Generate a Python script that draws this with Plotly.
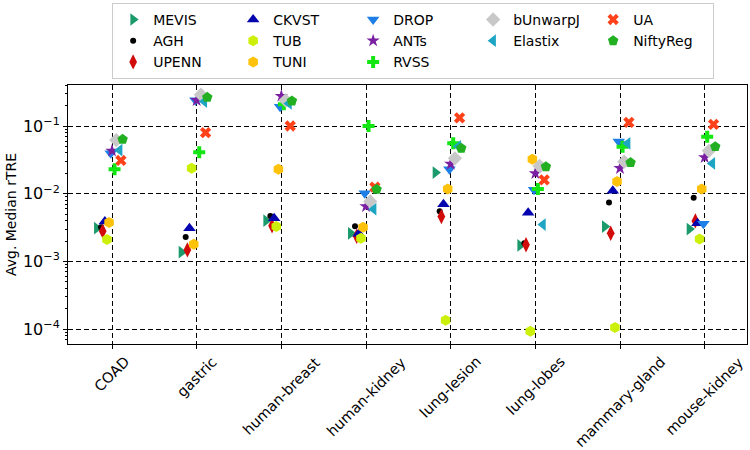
import plotly.graph_objects as go

categories = ["COAD", "gastric", "human-breast", "human-kidney",
              "lung-lesion", "lung-lobes", "mammary-gland", "mouse-kidney"]

methods = ["MEVIS", "AGH", "UPENN", "CKVST", "TUB", "TUNI", "DROP",
           "ANTs", "RVSS", "bUnwarpJ", "Elastix", "UA", "NiftyReg"]

MEVIS = [3.1e-3, 1.37e-3, 4.0e-3, 2.6e-3, 0.0205, 1.72e-3, 3.27e-3, 3.0e-3]
AGH = [3.2e-3, 2.3e-3, 4.7e-3, 3.3e-3, 5.5e-3, 1.86e-3, 7.4e-3, 8.75e-3]
UPENN = [2.8e-3, 1.48e-3, 3.35e-3, 2.35e-3, 4.6e-3, 1.76e-3, 2.6e-3, 3.97e-3]
CKVST = [3.9e-3, 3.1e-3, 4.35e-3, 2.57e-3, 7.0e-3, 5.25e-3, 0.0111, 3.67e-3]
TUB = [2.1e-3, 0.0238, 3.27e-3, 2.2e-3, 1.35e-4, 9.3e-5, 1.06e-4, 2.14e-3]
TUNI = [3.75e-3, 1.8e-3, 0.023, 3.2e-3, 0.0117, 0.0322, 0.0151, 0.0117]
DROP = [0.0395, 0.24, 0.193, 0.0102, 0.023, 0.0114, 0.059, 3.6e-3]
ANTs = [0.043, 0.24, 0.277, 0.0065, 0.0275, 0.020, 0.0238, 0.0345]
RVSS = [0.023, 0.041, 0.21, 0.1, 0.0555, 0.0117, 0.0496, 0.0695]
bUnwarpJ = [0.062, 0.29, 0.24, 0.0077, 0.0333, 0.0257, 0.0297, 0.043]
Elastix = [0.044, 0.23, 0.216, 0.0059, 0.05, 3.5e-3, 0.0556, 0.028]
UA = [0.031, 0.080, 0.10, 0.0125, 0.132, 0.016, 0.113, 0.106]
NiftyReg = [0.0636, 0.265, 0.234, 0.0116, 0.047, 0.025, 0.0288, 0.0496]

values = {"MEVIS": MEVIS, "AGH": AGH, "UPENN": UPENN, "CKVST": CKVST,
          "TUB": TUB, "TUNI": TUNI, "DROP": DROP, "ANTs": ANTs, "RVSS": RVSS,
          "bUnwarpJ": bUnwarpJ, "Elastix": Elastix, "UA": UA, "NiftyReg": NiftyReg}

ytick_vals = [1e-4, 1e-3, 1e-2, 1e-1]
ytick_text = ["10<sup>−4</sup>", "10<sup>−3</sup>", "10<sup>−2</sup>", "10<sup>−1</sup>"]

# style: symbol, color, size, dodge offset (in category units), legend rank
style = {
    "MEVIS":    ("triangle-right", "#1b9a6c", 11, -0.18, 1),
    "AGH":      ("circle", "#000000", 6, -0.13, 6),
    "UPENN":    ("diamond-tall", "#d10a0a", 11, -0.11, 11),
    "CKVST":    ("triangle-up", "#0505b0", 11, -0.085, 2),
    "TUB":      ("hexagon", "#cdf00a", 11, -0.06, 7),
    "TUNI":     ("hexagon", "#ffc20a", 11, -0.035, 12),
    "DROP":     ("triangle-down", "#1e7fe6", 11, -0.015, 3),
    "ANTs":     ("star", "#7a1fa2", 10, 0.0, 8),
    "RVSS":     ("cross", "#14e614", 10, 0.03, 13),
    "bUnwarpJ": ("diamond", "#c8c8c8", 11, 0.05, 4),
    "Elastix":  ("triangle-left", "#1ea5c4", 11, 0.09, 9),
    "UA":       ("x", "#ff4219", 10, 0.105, 5),
    "NiftyReg": ("pentagon", "#22b022", 11, 0.125, 10),
}

fig = go.Figure()
for m in methods:
    sym, col, size, off, rank = style[m]
    fig.add_trace(go.Scatter(
        x=[i + off for i in range(len(categories))],
        y=values[m],
        mode="markers",
        name=m,
        legendrank=rank,
        marker=dict(symbol=sym, color=col, size=size, line=dict(width=0)),
    ))

# category labels, rotated 45 degrees and centred under each tick
for i, c in enumerate(categories):
    fig.add_annotation(x=i, y=0, xref="x", yref="paper", yshift=-7,
                       text=c, textangle=-45, showarrow=False,
                       xanchor="center", yanchor="top",
                       font=dict(size=14.5))

font = "DejaVu Sans, sans-serif"
fig.update_layout(
    width=750, height=450,
    margin=dict(l=68, r=3, t=85, b=106, autoexpand=False),
    paper_bgcolor="white", plot_bgcolor="white",
    font=dict(family=font, size=14, color="black"),
    showlegend=True,
    legend=dict(orientation="h", x=0.065, xanchor="left", y=1.317, yanchor="top",
                entrywidth=75, bordercolor="#cccccc", borderwidth=1,
                bgcolor="white", font=dict(size=14), tracegroupgap=0),
)
fig.update_xaxes(
    range=[-0.52, 7.5],
    tickvals=list(range(len(categories))), showticklabels=False,
    ticks="outside", ticklen=4, tickcolor="black",
    showline=True, linecolor="black", linewidth=1, mirror=True,
    showgrid=True, gridcolor="black", gridwidth=1, griddash="5px,3px",
    zeroline=False,
)
fig.update_yaxes(
    type="log", range=[-4.22, -0.394],
    tickvals=ytick_vals, ticktext=ytick_text,
    ticks="outside", ticklen=4, tickcolor="black",
    tickfont=dict(size=16),
    minor=dict(ticks="outside", ticklen=2, tickcolor="black", dtick="D1", showgrid=False),
    showline=True, linecolor="black", linewidth=1, mirror=True,
    showgrid=True, gridcolor="black", gridwidth=1, griddash="5px,3px",
    zeroline=False,
    title=dict(text="Avg. Median rTRE", font=dict(size=14), standoff=3),
)

fig.write_html("out.html", config={"displayModeBar": False},
               post_script="document.body.style.margin='0';")
